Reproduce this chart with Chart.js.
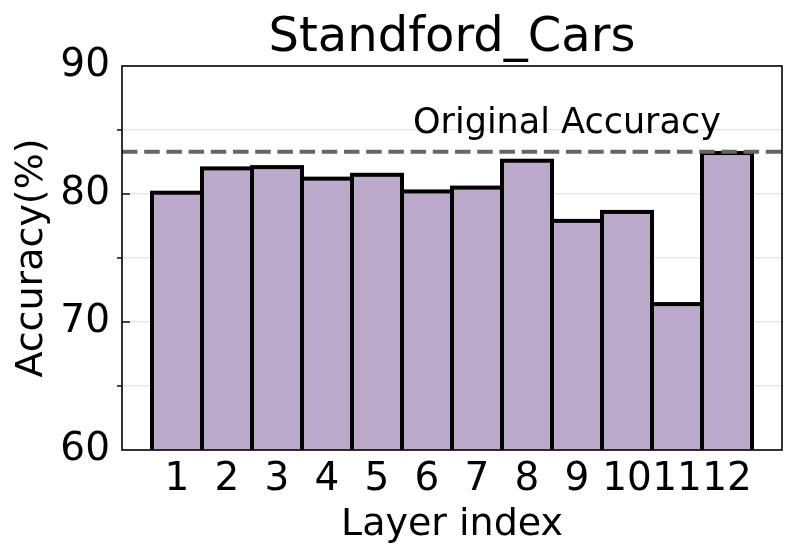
<!DOCTYPE html>
<html>
<head>
<meta charset="utf-8">
<script src="https://cdn.jsdelivr.net/npm/chart.js@4"></script>
<style>
  html, body { margin: 0; padding: 0; background: #fff; }
  #wrap { width: 798px; height: 560px; }
</style>
</head>
<body>
<div id="wrap"><canvas id="c" width="798" height="560"></canvas></div>
<script>
const layerLabels = ['1','2','3','4','5','6','7','8','9','10','11','12'];
const layerPositions = [1,2,3,4,5,6,7,8,9,10,11,12];
const accuracyValues = [80.1, 82.0, 82.1, 81.2, 81.5, 80.2, 80.5, 82.6, 77.9, 78.6, 71.4, 83.2];
const originalAccuracy = 83.3;
const yTickLabels = [60, 70, 80, 90];
const yGridValues = [65, 70, 75, 80, 85];
const yMinorTicks = [65, 75, 85];
const yMajorTicks = [70, 80];
const chartTitle = 'Standford_Cars';
const xTitle = 'Layer index';
const yTitle = 'Accuracy(%)';
const refLabel = 'Original Accuracy';

const FONT = "'DejaVu Sans', sans-serif";
const X_MIN = -0.1, X_MAX = 13.1;

const barData = layerPositions.map((x, i) => ({ x: x, y: accuracyValues[i] }));
const refData = [{ x: X_MIN, y: originalAccuracy }, { x: X_MAX, y: originalAccuracy }];

const decorPlugin = {
  id: 'decor',
  afterDatasetDraw(chart, args) {
    if (args.index !== 0) return;
    const ctx = chart.ctx, area = chart.chartArea;
    const meta = chart.getDatasetMeta(0);
    ctx.save();
    ctx.beginPath();
    ctx.rect(area.left, area.top, area.right - area.left, area.bottom - area.top);
    ctx.clip();
    ctx.strokeStyle = '#000';
    ctx.lineWidth = 4;
    ctx.lineJoin = 'miter';
    meta.data.forEach(bar => {
      const p = bar.getProps(['x', 'y', 'base', 'width'], true);
      ctx.strokeRect(p.x - p.width / 2, p.y, p.width, p.base - p.y);
    });
    ctx.restore();
  },
  afterDraw(chart) {
    const ctx = chart.ctx, area = chart.chartArea;
    const ys = chart.scales.y, xs = chart.scales.x;
    ctx.save();
    ctx.strokeStyle = '#000';
    ctx.lineWidth = 1.6;
    ctx.strokeRect(area.left, area.top, area.right - area.left, area.bottom - area.top);
    ctx.lineWidth = 1.4;
    yMajorTicks.forEach(v => {
      const y = ys.getPixelForValue(v);
      ctx.beginPath();
      ctx.moveTo(area.left, y);
      ctx.lineTo(area.left + 8, y);
      ctx.stroke();
    });
    yMinorTicks.forEach(v => {
      const y = ys.getPixelForValue(v);
      ctx.beginPath();
      ctx.moveTo(area.left - 5, y);
      ctx.lineTo(area.left, y);
      ctx.stroke();
    });
    ctx.fillStyle = '#000';
    ctx.font = "35px " + FONT;
    ctx.textAlign = 'left';
    ctx.textBaseline = 'alphabetic';
    ctx.fillText(refLabel, xs.getPixelForValue(5.72), ys.getPixelForValue(84.75));
    ctx.restore();
  }
};

new Chart(document.getElementById('c'), {
  data: {
    datasets: [
      {
        type: 'bar',
        data: barData,
        backgroundColor: '#bbaac9',
        borderWidth: 0,
        barPercentage: 1.0,
        categoryPercentage: 1.0,
        order: 2
      },
      {
        type: 'line',
        data: refData,
        borderColor: '#666666',
        borderWidth: 4,
        borderDash: [15.5, 6.7],
        pointRadius: 0,
        fill: false,
        order: 1
      }
    ]
  },
  options: {
    responsive: false,
    animation: false,
    devicePixelRatio: 1,
    layout: { padding: { left: 0, right: 16, top: 0, bottom: 0 } },
    plugins: {
      legend: { display: false },
      tooltip: { enabled: false },
      title: {
        display: true,
        text: chartTitle,
        fullSize: false,
        color: '#000',
        font: { family: FONT, size: 48, weight: 'normal', lineHeight: 1.1 },
        padding: { top: 12.4, bottom: 0.8 }
      }
    },
    scales: {
      x: {
        type: 'linear',
        min: X_MIN,
        max: X_MAX,
        offset: false,
        grid: { display: false, drawTicks: false },
        border: { display: false },
        afterBuildTicks(scale) {
          scale.ticks = layerPositions.map(v => ({ value: v }));
        },
        afterFit(scale) { scale.height = 110; },
        ticks: {
          autoSkip: false,
          maxRotation: 0,
          minRotation: 0,
          padding: 6,
          color: '#000',
          font: { family: FONT, size: 39 },
          callback(value) {
            const i = layerPositions.indexOf(value);
            return i >= 0 ? layerLabels[i] : '';
          }
        },
        title: {
          display: true,
          text: xTitle,
          color: '#000',
          font: { family: FONT, size: 38 },
          padding: { top: 0, bottom: 12 }
        }
      },
      y: {
        type: 'linear',
        min: 60,
        max: 90,
        afterBuildTicks(scale) {
          const vals = Array.from(new Set(yTickLabels.concat(yGridValues))).sort((a, b) => a - b);
          scale.ticks = vals.map(v => ({ value: v }));
        },
        afterFit(scale) { scale.width = 122; },
        grid: {
          drawTicks: false,
          lineWidth: 1.5,
          color(ctx) {
            const v = ctx.tick && ctx.tick.value;
            return yGridValues.includes(v) ? 'rgba(0,0,0,0.09)' : 'rgba(0,0,0,0)';
          }
        },
        border: { display: false },
        ticks: {
          padding: 12,
          color: '#000',
          font: { family: FONT, size: 39 },
          callback(value) {
            return yTickLabels.includes(value) ? String(value) : '';
          }
        },
        title: {
          display: true,
          text: yTitle,
          color: '#000',
          font: { family: FONT, size: 38 },
          padding: { top: 9, bottom: 0 }
        }
      }
    }
  },
  plugins: [decorPlugin]
});
</script>
</body>
</html>
